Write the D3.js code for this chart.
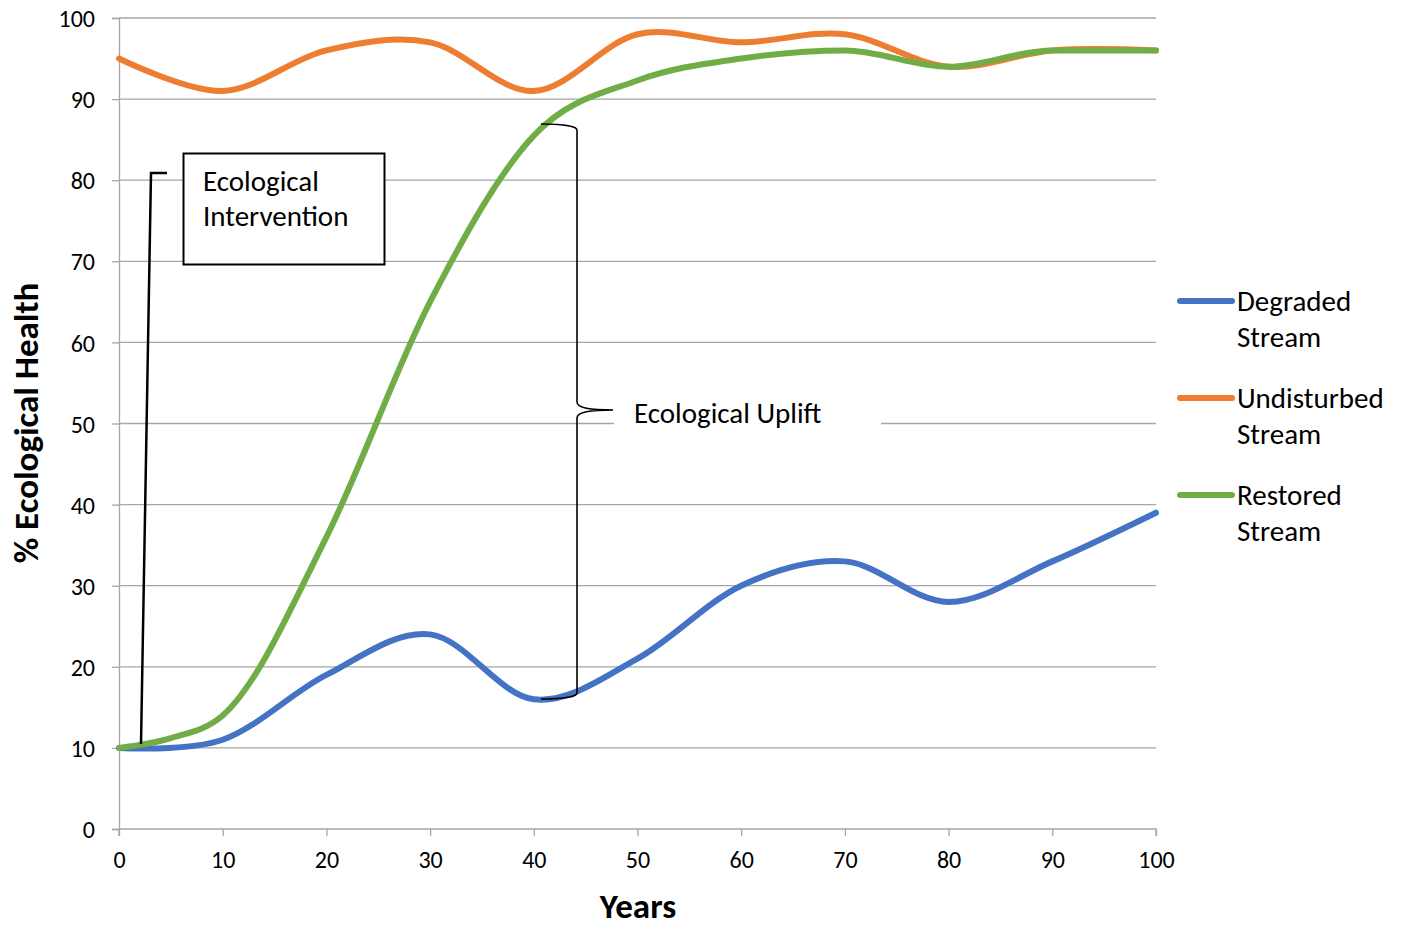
<!DOCTYPE html>
<html><head><meta charset="utf-8">
<script src="https://cdn.jsdelivr.net/npm/d3@7"></script>
<style>body{margin:0;background:#fff;} svg{display:block;font-family:Carlito,Lato,"Liberation Sans",sans-serif;}</style>
</head><body>
<svg id="c" width="1403" height="927"></svg>
<script>
const years = [0,10,20,30,40,50,60,70,80,90,100];
const degraded = [10,11,19,24,16,21,30,33,28,33,39];
const undisturbed = [95,91,96,97,91,98,97,98,94,96,96];
const restoredYears = [0,5,10,20,30,40,50,60,70,80,90,100];
const restored = [10,11.2,14,36,65,85.5,92.3,95,96,94,96,96];
const seriesNames = ["Degraded Stream","Undisturbed Stream","Restored Stream"];
const seriesColors = ["#4472C4","#ED7D31","#70AD47"];
const yTicks = [0,10,20,30,40,50,60,70,80,90,100];
const xTicks = [0,10,20,30,40,50,60,70,80,90,100];

(function(){
const svg = d3.select("#c");
const x = d3.scaleLinear().domain([0,100]).range([119,1156]);
const y = d3.scaleLinear().domain([0,100]).range([829,18]);
const grid = "#a6a6a6";

// gridlines
svg.append("g").selectAll("line").data(yTicks.filter(d=>d>0)).join("line")
  .attr("x1",x(0)).attr("x2",x(100)).attr("y1",d=>y(d)).attr("y2",d=>y(d))
  .attr("stroke",grid).attr("stroke-width",1.3);

// axes
const yAxis = d3.axisLeft(y).tickValues(yTicks).tickSize(7).tickPadding(17);
const gy = svg.append("g").attr("transform",`translate(${x(0)},0)`).call(yAxis);
const xAxis = d3.axisBottom(x).tickValues(xTicks).tickSize(7).tickPadding(15);
const gx = svg.append("g").attr("transform",`translate(0,${y(0)})`).call(xAxis);
[gx,gy].forEach(g=>{
  g.selectAll("path,line").attr("stroke",grid).attr("stroke-width",1.3);
  g.selectAll("text").attr("fill","#000").style("font-size","24px").style("font-family","Carlito,Lato,sans-serif");
});
gy.selectAll("text").attr("dy","0.36em");
gx.select(".domain").attr("d",`M${x(0)},7V0H${x(100)}V7`);

// lines
const curves = [d3.curveCardinal.tension(0), d3.curveCardinal.tension(0), d3.curveMonotoneX];
const sets = [[years,degraded],[years,undisturbed],[restoredYears,restored]];
sets.forEach(([xs,vals],i)=>{
  const line = d3.line().x(d=>x(d[0])).y(d=>y(d[1])).curve(curves[i]);
  svg.append("path").datum(xs.map((yr,j)=>[yr,vals[j]]))
    .attr("d",line).attr("fill","none").attr("stroke",seriesColors[i])
    .attr("stroke-width",6).attr("stroke-linecap","round").attr("stroke-linejoin","round");
});

// Ecological Uplift label with white background
svg.append("rect").attr("x",614).attr("y",392).attr("width",267).attr("height",44).attr("fill","#fff");
svg.append("text").attr("x",634).attr("y",423).text("Ecological Uplift")
  .style("font-size","29px").attr("fill","#000");

// brace
const bx = 577, bTop = 124, bBot = 699, bMid = 410;
svg.append("path")
  .attr("d",`M541,${bTop} C560,${bTop} 577,${bTop+2} ${bx},${bTop+6} L${bx},${bMid-8} C${bx},${bMid-2} 590,${bMid} 613,${bMid} M${bx},${bMid+8} C${bx},${bMid+2} 590,${bMid} 613,${bMid} M${bx},${bMid+8} L${bx},${bBot-6} C${bx},${bBot-2} 560,${bBot} 541,${bBot}`)
  .attr("fill","none").attr("stroke","#000").attr("stroke-width",1.6);

// intervention callout
svg.append("path").attr("d","M141,744 L151,173 L167,173").attr("fill","none").attr("stroke","#000").attr("stroke-width",2.5);
svg.append("rect").attr("x",183.5).attr("y",153.5).attr("width",201).attr("height",111)
  .attr("fill","#fff").attr("stroke","#000").attr("stroke-width",2);
const ei = svg.append("text").style("font-size","29px").attr("fill","#000");
ei.append("tspan").attr("x",203).attr("y",191).text("Ecological");
ei.append("tspan").attr("x",203).attr("y",226).text("Intervention");

// legend
const lg = svg.append("g");
[301,398,495].forEach((ly,i)=>{
  lg.append("line").attr("x1",1180).attr("x2",1232).attr("y1",ly).attr("y2",ly)
    .attr("stroke",seriesColors[i]).attr("stroke-width",6).attr("stroke-linecap","round");
  const words = seriesNames[i].split(" ");
  const t = lg.append("text").style("font-size","29px").attr("fill","#000");
  t.append("tspan").attr("x",1237).attr("y",ly+10).text(words[0]);
  t.append("tspan").attr("x",1237).attr("y",ly+46).text(words[1]);
});

// axis titles
svg.append("text").attr("x",638).attr("y",918).attr("text-anchor","middle")
  .style("font-size","35px").style("font-weight","bold").text("Years");
svg.append("text").attr("transform","translate(38,423) rotate(-90)").attr("text-anchor","middle")
  .style("font-size","35px").style("font-weight","bold").text("% Ecological Health");
})();
</script>
</body></html>
